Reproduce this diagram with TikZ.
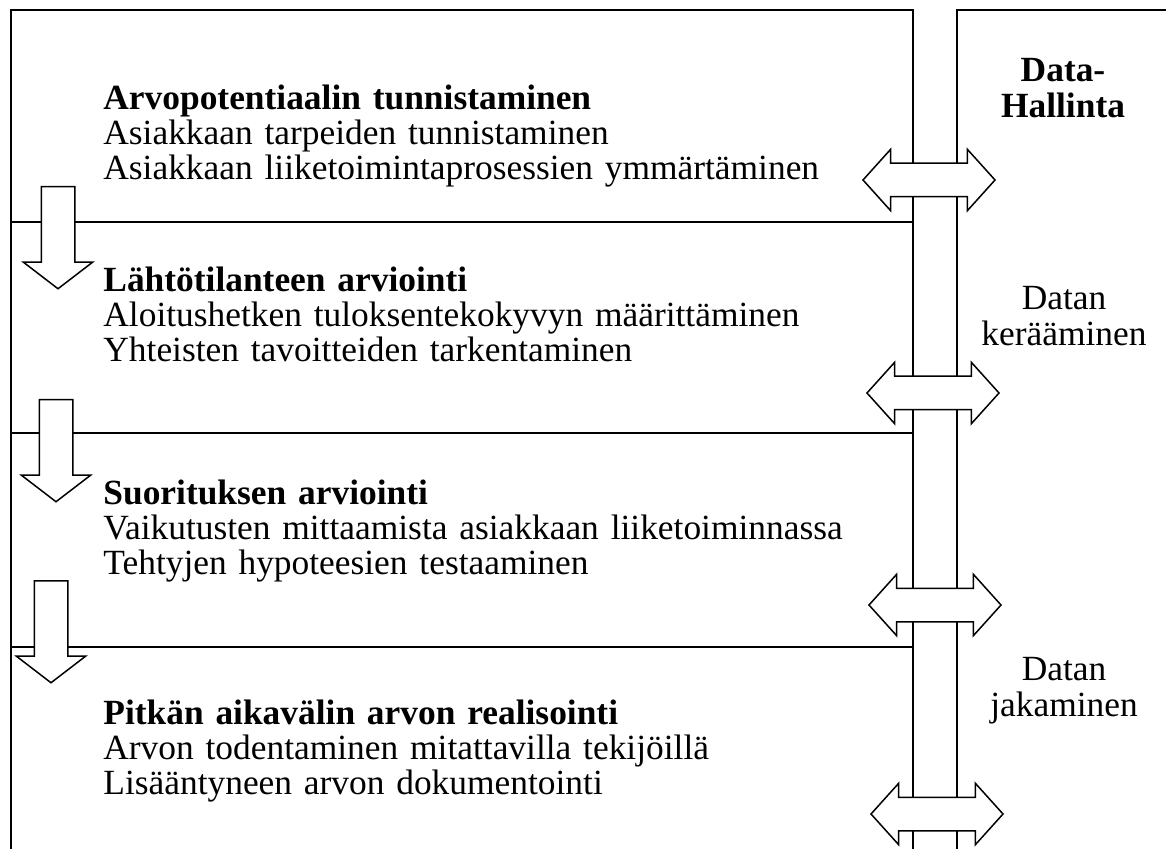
\documentclass[tikz,border=0pt]{standalone}
\usepackage{fontspec}
\setmainfont{Liberation Serif}
\usetikzlibrary{shapes.arrows}

\begin{document}
\begin{tikzpicture}[
    x=0.5pt, y=-0.5pt,
    frame/.style={line width=1pt},
    rowtext/.style={anchor=base west, align=left, text width=420pt, inner sep=0pt, font=\fontsize{17.7}{17.5}\selectfont},
    sidetext/.style={anchor=base, align=center, inner sep=0pt, font=\fontsize{17.7}{18}\selectfont},
    flowarrow/.style={single arrow, draw, fill=white, line width=0.75pt, rotate=-90, anchor=tail, minimum width=0pt, minimum height=51pt, inner xsep=0pt, inner ysep=8pt, single arrow head extend=9pt, single arrow tip angle=105},
    dataarrow/.style={double arrow, draw, fill=white, line width=0.75pt, minimum width=0pt, minimum height=66pt, inner xsep=0pt, inner ysep=8pt, double arrow head extend=7pt, double arrow tip angle=96}
]
\useasboundingbox (0,0) rectangle (1166,849);

% frames
\draw[frame] (11,849) -- (11,10) -- (913,10) -- (913,849);
\draw[frame] (957,849) -- (957,10) -- (1166,10);
\foreach \y in {222,433,647}
    \draw[frame] (11,\y) -- (913,\y);

% phases
\node[rowtext] (phase1) at (103,110) {\textbf{Arvopotentiaalin tunnistaminen}\\Asiakkaan tarpeiden tunnistaminen\\Asiakkaan liiketoimintaprosessien ymmärtäminen};
\node[rowtext] (phase2) at (103,292) {\textbf{Lähtötilanteen arviointi}\\Aloitushetken tuloksentekokyvyn määrittäminen\\Yhteisten tavoitteiden tarkentaminen};
\node[rowtext] (phase3) at (103,504) {\textbf{Suorituksen arviointi}\\Vaikutusten mittaamista asiakkaan liiketoiminnassa\\Tehtyjen hypoteesien testaaminen};
\node[rowtext] (phase4) at (103,724) {\textbf{Pitkän aikavälin arvon realisointi}\\Arvon todentaminen mitattavilla tekijöillä\\Lisääntyneen arvon dokumentointi};

% data side
\node[sidetext] (hallinta) at (1063,118) {\textbf{Data-}\\\textbf{Hallinta}};
\node[sidetext] (keruu) at (1064,346) {Datan\\kerääminen};
\node[sidetext] (jako) at (1064,716) {Datan\\jakaminen};

% flow arrows
\node[flowarrow] (down1) at (58,186) {};
\node[flowarrow] (down2) at (56,399) {};
\node[flowarrow] (down3) at (51,580) {};

% data arrows
\node[dataarrow] (link1) at (929,180) {};
\node[dataarrow] (link2) at (933,393) {};
\node[dataarrow] (link3) at (935,605) {};
\node[dataarrow] (link4) at (937,814) {};

\end{tikzpicture}
\end{document}
